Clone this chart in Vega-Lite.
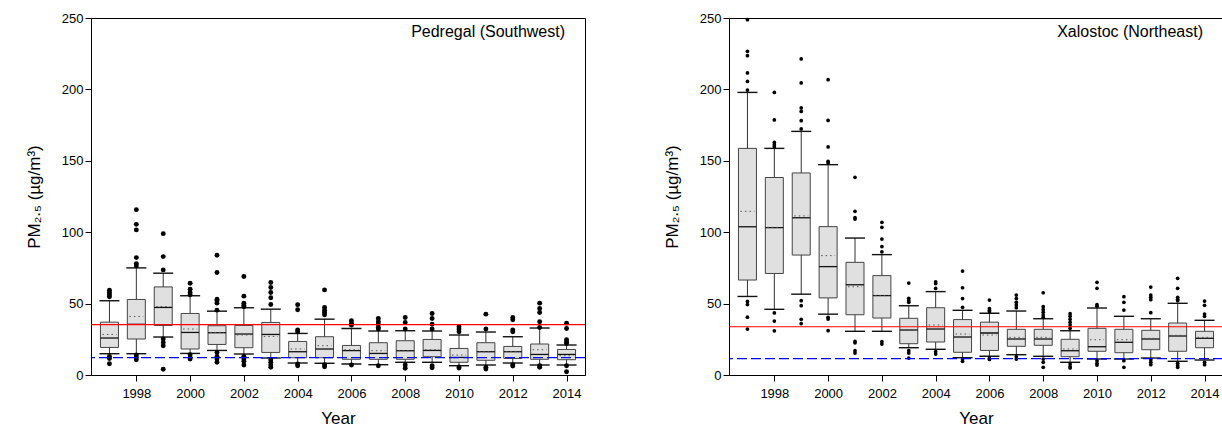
{
  "$schema": "https://vega.github.io/schema/vega-lite/v6.json",
  "padding": {"left": 24, "top": 11, "right": 0, "bottom": 0},
  "spacing": 75,
  "config": {
    "font": "Liberation Sans",
    "view": {"stroke": "black", "strokeWidth": 1},
    "axis": {"grid": false, "domainColor": "black", "tickColor": "black", "labelColor": "black", "titleColor": "black", "labelFontSize": 13, "titleFontSize": 17, "titleFontWeight": "normal"},
    "axisY": {"labelOverlap": false, "labelFontSize": 13, "tickSize": 6, "labelPadding": 2, "titlePadding": 18},
    "title": {"color": "black"}
  },
  "datasets": {
    "boxes": [
      {"site": "P", "year": 1997, "q1": 19.3, "q3": 37.0, "med": 25.9, "mean": 28.4, "lo": 14.9, "hi": 52.0},
      {"site": "P", "year": 1998, "q1": 25.2, "q3": 52.9, "med": 35.5, "mean": 41.0, "lo": 14.9, "hi": 75.0},
      {"site": "P", "year": 1999, "q1": 34.7, "q3": 61.7, "med": 47.3, "mean": 48.0, "lo": 26.6, "hi": 71.3},
      {"site": "P", "year": 2000, "q1": 18.2, "q3": 43.1, "med": 29.8, "mean": 32.2, "lo": 15.1, "hi": 55.5},
      {"site": "P", "year": 2001, "q1": 21.4, "q3": 34.5, "med": 29.6, "mean": 29.8, "lo": 17.2, "hi": 44.7},
      {"site": "P", "year": 2002, "q1": 19.1, "q3": 34.7, "med": 28.7, "mean": 28.0, "lo": 14.7, "hi": 47.1},
      {"site": "P", "year": 2003, "q1": 15.8, "q3": 36.8, "med": 28.4, "mean": 27.0, "lo": 11.9, "hi": 46.1},
      {"site": "P", "year": 2004, "q1": 12.1, "q3": 23.5, "med": 16.3, "mean": 18.2, "lo": 8.4, "hi": 29.1},
      {"site": "P", "year": 2005, "q1": 12.1, "q3": 26.8, "med": 18.2, "mean": 20.5, "lo": 8.2, "hi": 39.1},
      {"site": "P", "year": 2006, "q1": 11.0, "q3": 20.7, "med": 17.0, "mean": 17.7, "lo": 7.7, "hi": 32.6},
      {"site": "P", "year": 2007, "q1": 11.0, "q3": 22.6, "med": 15.1, "mean": 17.0, "lo": 7.2, "hi": 30.8},
      {"site": "P", "year": 2008, "q1": 11.0, "q3": 24.0, "med": 17.0, "mean": 17.0, "lo": 8.9, "hi": 31.0},
      {"site": "P", "year": 2009, "q1": 12.8, "q3": 24.9, "med": 17.2, "mean": 17.7, "lo": 8.9, "hi": 30.8},
      {"site": "P", "year": 2010, "q1": 8.9, "q3": 18.6, "med": 12.3, "mean": 14.0, "lo": 6.5, "hi": 28.0},
      {"site": "P", "year": 2011, "q1": 10.3, "q3": 22.6, "med": 16.3, "mean": 16.3, "lo": 7.0, "hi": 30.1},
      {"site": "P", "year": 2012, "q1": 11.6, "q3": 20.0, "med": 16.3, "mean": 16.5, "lo": 8.4, "hi": 26.8},
      {"site": "P", "year": 2013, "q1": 11.0, "q3": 21.7, "med": 14.4, "mean": 17.7, "lo": 7.0, "hi": 32.9},
      {"site": "P", "year": 2014, "q1": 10.7, "q3": 17.9, "med": 14.4, "mean": 13.5, "lo": 7.0, "hi": 21.0},
      {"site": "X", "year": 1997, "q1": 66.5, "q3": 158.7, "med": 103.8, "mean": 114.6, "lo": 55.0, "hi": 197.9},
      {"site": "X", "year": 1998, "q1": 71.1, "q3": 138.3, "med": 103.2, "mean": 103.4, "lo": 46.0, "hi": 158.7},
      {"site": "X", "year": 1999, "q1": 84.0, "q3": 141.5, "med": 110.1, "mean": 111.4, "lo": 56.6, "hi": 170.6},
      {"site": "X", "year": 2000, "q1": 54.0, "q3": 103.9, "med": 75.9, "mean": 83.6, "lo": 42.6, "hi": 147.3},
      {"site": "X", "year": 2001, "q1": 42.2, "q3": 78.9, "med": 63.2, "mean": 61.8, "lo": 30.6, "hi": 95.9},
      {"site": "X", "year": 2002, "q1": 39.9, "q3": 69.6, "med": 55.6, "mean": 55.6, "lo": 30.6, "hi": 84.3},
      {"site": "X", "year": 2003, "q1": 21.9, "q3": 39.7, "med": 31.5, "mean": 31.8, "lo": 19.1, "hi": 48.5},
      {"site": "X", "year": 2004, "q1": 23.1, "q3": 47.1, "med": 32.2, "mean": 35.0, "lo": 18.0, "hi": 58.4},
      {"site": "X", "year": 2005, "q1": 15.9, "q3": 38.8, "med": 26.6, "mean": 28.7, "lo": 12.1, "hi": 45.3},
      {"site": "X", "year": 2006, "q1": 17.2, "q3": 37.0, "med": 29.4, "mean": 28.0, "lo": 13.1, "hi": 43.2},
      {"site": "X", "year": 2007, "q1": 20.1, "q3": 32.0, "med": 25.2, "mean": 26.4, "lo": 14.2, "hi": 44.8},
      {"site": "X", "year": 2008, "q1": 20.8, "q3": 32.0, "med": 25.2, "mean": 26.4, "lo": 13.1, "hi": 39.4},
      {"site": "X", "year": 2009, "q1": 12.8, "q3": 25.0, "med": 17.0, "mean": 18.2, "lo": 8.9, "hi": 31.0},
      {"site": "X", "year": 2010, "q1": 16.6, "q3": 32.7, "med": 19.8, "mean": 24.7, "lo": 11.2, "hi": 46.9},
      {"site": "X", "year": 2011, "q1": 15.6, "q3": 32.0, "med": 22.9, "mean": 24.7, "lo": 11.2, "hi": 41.1},
      {"site": "X", "year": 2012, "q1": 17.7, "q3": 31.3, "med": 25.2, "mean": 25.7, "lo": 11.9, "hi": 39.4},
      {"site": "X", "year": 2013, "q1": 16.6, "q3": 36.4, "med": 27.3, "mean": 27.8, "lo": 9.6, "hi": 50.2},
      {"site": "X", "year": 2014, "q1": 19.1, "q3": 30.6, "med": 25.7, "mean": 26.4, "lo": 10.5, "hi": 38.3}
    ],
    "outliers": [
      {"site": "P", "year": 1997, "v": 59.4}, {"site": "P", "year": 1997, "v": 57.8}, {"site": "P", "year": 1997, "v": 56.2}, {"site": "P", "year": 1997, "v": 54.8}, {"site": "P", "year": 1997, "v": 13.0}, {"site": "P", "year": 1997, "v": 11.6}, {"site": "P", "year": 1997, "v": 7.9},
      {"site": "P", "year": 1998, "v": 115.8}, {"site": "P", "year": 1998, "v": 105.5}, {"site": "P", "year": 1998, "v": 101.6}, {"site": "P", "year": 1998, "v": 82.2}, {"site": "P", "year": 1998, "v": 78.0}, {"site": "P", "year": 1998, "v": 76.4}, {"site": "P", "year": 1998, "v": 14.0}, {"site": "P", "year": 1998, "v": 12.3}, {"site": "P", "year": 1998, "v": 10.7},
      {"site": "P", "year": 1999, "v": 99.0}, {"site": "P", "year": 1999, "v": 82.9}, {"site": "P", "year": 1999, "v": 73.6}, {"site": "P", "year": 1999, "v": 25.2}, {"site": "P", "year": 1999, "v": 22.8}, {"site": "P", "year": 1999, "v": 20.5}, {"site": "P", "year": 1999, "v": 4.0},
      {"site": "P", "year": 2000, "v": 64.3}, {"site": "P", "year": 2000, "v": 60.1}, {"site": "P", "year": 2000, "v": 57.8}, {"site": "P", "year": 2000, "v": 56.2}, {"site": "P", "year": 2000, "v": 14.2}, {"site": "P", "year": 2000, "v": 12.3}, {"site": "P", "year": 2000, "v": 11.2},
      {"site": "P", "year": 2001, "v": 83.9}, {"site": "P", "year": 2001, "v": 71.8}, {"site": "P", "year": 2001, "v": 53.1}, {"site": "P", "year": 2001, "v": 52.0}, {"site": "P", "year": 2001, "v": 50.3}, {"site": "P", "year": 2001, "v": 45.4}, {"site": "P", "year": 2001, "v": 15.8}, {"site": "P", "year": 2001, "v": 13.0}, {"site": "P", "year": 2001, "v": 11.2}, {"site": "P", "year": 2001, "v": 8.9},
      {"site": "P", "year": 2002, "v": 69.0}, {"site": "P", "year": 2002, "v": 55.2}, {"site": "P", "year": 2002, "v": 50.3}, {"site": "P", "year": 2002, "v": 48.9}, {"site": "P", "year": 2002, "v": 47.8}, {"site": "P", "year": 2002, "v": 13.0}, {"site": "P", "year": 2002, "v": 11.2}, {"site": "P", "year": 2002, "v": 9.6}, {"site": "P", "year": 2002, "v": 7.0},
      {"site": "P", "year": 2003, "v": 64.8}, {"site": "P", "year": 2003, "v": 61.3}, {"site": "P", "year": 2003, "v": 57.8}, {"site": "P", "year": 2003, "v": 54.1}, {"site": "P", "year": 2003, "v": 49.4}, {"site": "P", "year": 2003, "v": 10.7}, {"site": "P", "year": 2003, "v": 8.9}, {"site": "P", "year": 2003, "v": 7.0}, {"site": "P", "year": 2003, "v": 5.4},
      {"site": "P", "year": 2004, "v": 49.2}, {"site": "P", "year": 2004, "v": 45.7}, {"site": "P", "year": 2004, "v": 31.5}, {"site": "P", "year": 2004, "v": 30.3}, {"site": "P", "year": 2004, "v": 7.7}, {"site": "P", "year": 2004, "v": 6.5},
      {"site": "P", "year": 2005, "v": 59.6}, {"site": "P", "year": 2005, "v": 47.3}, {"site": "P", "year": 2005, "v": 45.4}, {"site": "P", "year": 2005, "v": 43.8}, {"site": "P", "year": 2005, "v": 42.2}, {"site": "P", "year": 2005, "v": 7.2}, {"site": "P", "year": 2005, "v": 5.8},
      {"site": "P", "year": 2006, "v": 38.0}, {"site": "P", "year": 2006, "v": 36.3}, {"site": "P", "year": 2006, "v": 34.9}, {"site": "P", "year": 2006, "v": 7.0},
      {"site": "P", "year": 2007, "v": 39.6}, {"site": "P", "year": 2007, "v": 37.3}, {"site": "P", "year": 2007, "v": 35.6}, {"site": "P", "year": 2007, "v": 33.3}, {"site": "P", "year": 2007, "v": 32.2}, {"site": "P", "year": 2007, "v": 6.5},
      {"site": "P", "year": 2008, "v": 40.3}, {"site": "P", "year": 2008, "v": 36.8}, {"site": "P", "year": 2008, "v": 32.2}, {"site": "P", "year": 2008, "v": 7.0}, {"site": "P", "year": 2008, "v": 4.7},
      {"site": "P", "year": 2009, "v": 43.1}, {"site": "P", "year": 2009, "v": 39.6}, {"site": "P", "year": 2009, "v": 35.6}, {"site": "P", "year": 2009, "v": 32.2}, {"site": "P", "year": 2009, "v": 6.5}, {"site": "P", "year": 2009, "v": 5.1},
      {"site": "P", "year": 2010, "v": 33.8}, {"site": "P", "year": 2010, "v": 32.2}, {"site": "P", "year": 2010, "v": 30.3}, {"site": "P", "year": 2010, "v": 5.6}, {"site": "P", "year": 2010, "v": 4.9},
      {"site": "P", "year": 2011, "v": 42.6}, {"site": "P", "year": 2011, "v": 32.2}, {"site": "P", "year": 2011, "v": 5.4}, {"site": "P", "year": 2011, "v": 4.2},
      {"site": "P", "year": 2012, "v": 40.3}, {"site": "P", "year": 2012, "v": 38.7}, {"site": "P", "year": 2012, "v": 31.5}, {"site": "P", "year": 2012, "v": 30.3}, {"site": "P", "year": 2012, "v": 7.2}, {"site": "P", "year": 2012, "v": 6.3},
      {"site": "P", "year": 2013, "v": 50.3}, {"site": "P", "year": 2013, "v": 46.6}, {"site": "P", "year": 2013, "v": 43.8}, {"site": "P", "year": 2013, "v": 37.3}, {"site": "P", "year": 2013, "v": 33.3}, {"site": "P", "year": 2013, "v": 6.5}, {"site": "P", "year": 2013, "v": 5.4},
      {"site": "P", "year": 2014, "v": 36.3}, {"site": "P", "year": 2014, "v": 32.6}, {"site": "P", "year": 2014, "v": 24.7}, {"site": "P", "year": 2014, "v": 23.3}, {"site": "P", "year": 2014, "v": 22.1}, {"site": "P", "year": 2014, "v": 6.5}, {"site": "P", "year": 2014, "v": 2.3},
      {"site": "X", "year": 1997, "v": 248.8}, {"site": "X", "year": 1997, "v": 226.7}, {"site": "X", "year": 1997, "v": 223.6}, {"site": "X", "year": 1997, "v": 211.5}, {"site": "X", "year": 1997, "v": 205.6}, {"site": "X", "year": 1997, "v": 199.5}, {"site": "X", "year": 1997, "v": 51.5}, {"site": "X", "year": 1997, "v": 49.3}, {"site": "X", "year": 1997, "v": 40.5}, {"site": "X", "year": 1997, "v": 32.2},
      {"site": "X", "year": 1998, "v": 197.9}, {"site": "X", "year": 1998, "v": 178.6}, {"site": "X", "year": 1998, "v": 162.9}, {"site": "X", "year": 1998, "v": 161.3}, {"site": "X", "year": 1998, "v": 159.9}, {"site": "X", "year": 1998, "v": 43.5}, {"site": "X", "year": 1998, "v": 37.8}, {"site": "X", "year": 1998, "v": 30.9},
      {"site": "X", "year": 1999, "v": 221.3}, {"site": "X", "year": 1999, "v": 204.5}, {"site": "X", "year": 1999, "v": 187.0}, {"site": "X", "year": 1999, "v": 184.6}, {"site": "X", "year": 1999, "v": 178.1}, {"site": "X", "year": 1999, "v": 172.3}, {"site": "X", "year": 1999, "v": 52.0}, {"site": "X", "year": 1999, "v": 48.5}, {"site": "X", "year": 1999, "v": 39.0}, {"site": "X", "year": 1999, "v": 36.0},
      {"site": "X", "year": 2000, "v": 206.8}, {"site": "X", "year": 2000, "v": 178.3}, {"site": "X", "year": 2000, "v": 159.7}, {"site": "X", "year": 2000, "v": 149.6}, {"site": "X", "year": 2000, "v": 148.5}, {"site": "X", "year": 2000, "v": 40.4}, {"site": "X", "year": 2000, "v": 39.2}, {"site": "X", "year": 2000, "v": 31.0},
      {"site": "X", "year": 2001, "v": 138.4}, {"site": "X", "year": 2001, "v": 114.6}, {"site": "X", "year": 2001, "v": 110.2}, {"site": "X", "year": 2001, "v": 109.2}, {"site": "X", "year": 2001, "v": 23.6}, {"site": "X", "year": 2001, "v": 22.5}, {"site": "X", "year": 2001, "v": 17.0}, {"site": "X", "year": 2001, "v": 15.4},
      {"site": "X", "year": 2002, "v": 106.9}, {"site": "X", "year": 2002, "v": 103.4}, {"site": "X", "year": 2002, "v": 95.2}, {"site": "X", "year": 2002, "v": 89.9}, {"site": "X", "year": 2002, "v": 86.3}, {"site": "X", "year": 2002, "v": 23.3}, {"site": "X", "year": 2002, "v": 21.7},
      {"site": "X", "year": 2003, "v": 64.4}, {"site": "X", "year": 2003, "v": 53.7}, {"site": "X", "year": 2003, "v": 52.0}, {"site": "X", "year": 2003, "v": 50.9}, {"site": "X", "year": 2003, "v": 17.0}, {"site": "X", "year": 2003, "v": 15.4}, {"site": "X", "year": 2003, "v": 11.9},
      {"site": "X", "year": 2004, "v": 65.3}, {"site": "X", "year": 2004, "v": 64.0}, {"site": "X", "year": 2004, "v": 60.6}, {"site": "X", "year": 2004, "v": 16.3}, {"site": "X", "year": 2004, "v": 14.7},
      {"site": "X", "year": 2005, "v": 72.8}, {"site": "X", "year": 2005, "v": 61.1}, {"site": "X", "year": 2005, "v": 53.5}, {"site": "X", "year": 2005, "v": 47.4}, {"site": "X", "year": 2005, "v": 11.2}, {"site": "X", "year": 2005, "v": 9.6},
      {"site": "X", "year": 2006, "v": 52.5}, {"site": "X", "year": 2006, "v": 46.5}, {"site": "X", "year": 2006, "v": 45.3}, {"site": "X", "year": 2006, "v": 44.3}, {"site": "X", "year": 2006, "v": 11.7}, {"site": "X", "year": 2006, "v": 10.9},
      {"site": "X", "year": 2007, "v": 56.0}, {"site": "X", "year": 2007, "v": 53.5}, {"site": "X", "year": 2007, "v": 50.9}, {"site": "X", "year": 2007, "v": 49.0}, {"site": "X", "year": 2007, "v": 47.1}, {"site": "X", "year": 2007, "v": 12.8}, {"site": "X", "year": 2007, "v": 11.2},
      {"site": "X", "year": 2008, "v": 57.6}, {"site": "X", "year": 2008, "v": 47.8}, {"site": "X", "year": 2008, "v": 45.7}, {"site": "X", "year": 2008, "v": 43.9}, {"site": "X", "year": 2008, "v": 42.0}, {"site": "X", "year": 2008, "v": 40.4}, {"site": "X", "year": 2008, "v": 11.2}, {"site": "X", "year": 2008, "v": 8.9}, {"site": "X", "year": 2008, "v": 5.4},
      {"site": "X", "year": 2009, "v": 42.9}, {"site": "X", "year": 2009, "v": 41.1}, {"site": "X", "year": 2009, "v": 39.0}, {"site": "X", "year": 2009, "v": 36.9}, {"site": "X", "year": 2009, "v": 35.0}, {"site": "X", "year": 2009, "v": 32.7}, {"site": "X", "year": 2009, "v": 7.7}, {"site": "X", "year": 2009, "v": 5.8}, {"site": "X", "year": 2009, "v": 4.9},
      {"site": "X", "year": 2010, "v": 64.9}, {"site": "X", "year": 2010, "v": 60.7}, {"site": "X", "year": 2010, "v": 49.2}, {"site": "X", "year": 2010, "v": 48.2}, {"site": "X", "year": 2010, "v": 10.0}, {"site": "X", "year": 2010, "v": 8.2}, {"site": "X", "year": 2010, "v": 7.0},
      {"site": "X", "year": 2011, "v": 54.8}, {"site": "X", "year": 2011, "v": 50.9}, {"site": "X", "year": 2011, "v": 45.5}, {"site": "X", "year": 2011, "v": 10.0}, {"site": "X", "year": 2011, "v": 5.4},
      {"site": "X", "year": 2012, "v": 61.6}, {"site": "X", "year": 2012, "v": 56.0}, {"site": "X", "year": 2012, "v": 54.4}, {"site": "X", "year": 2012, "v": 52.7}, {"site": "X", "year": 2012, "v": 43.6}, {"site": "X", "year": 2012, "v": 10.5}, {"site": "X", "year": 2012, "v": 8.9}, {"site": "X", "year": 2012, "v": 7.2},
      {"site": "X", "year": 2013, "v": 67.7}, {"site": "X", "year": 2013, "v": 60.7}, {"site": "X", "year": 2013, "v": 54.4}, {"site": "X", "year": 2013, "v": 53.0}, {"site": "X", "year": 2013, "v": 52.0}, {"site": "X", "year": 2013, "v": 8.2}, {"site": "X", "year": 2013, "v": 6.5}, {"site": "X", "year": 2013, "v": 5.4},
      {"site": "X", "year": 2014, "v": 51.8}, {"site": "X", "year": 2014, "v": 48.8}, {"site": "X", "year": 2014, "v": 42.7}, {"site": "X", "year": 2014, "v": 41.1}, {"site": "X", "year": 2014, "v": 8.9}, {"site": "X", "year": 2014, "v": 7.2}
    ],
    "refs": [
      {"site": "P", "kind": "limit", "v": 35.3},
      {"site": "P", "kind": "guide", "v": 12.2},
      {"site": "X", "kind": "limit", "v": 33.8},
      {"site": "X", "kind": "guide", "v": 11.5}
    ]
  },
  "hconcat": [
    {
      "width": 494, "height": 357,
      "title": {"text": "Pedregal (Southwest)", "anchor": "end", "frame": "group", "offset": -44, "dx": -20, "fontSize": 16, "fontWeight": "normal", "baseline": "bottom"},
      "encoding": {
        "x": {"field": "year", "type": "quantitative", "scale": {"domain": [1996.5, 2014.5], "nice": false, "zero": false},
              "axis": {"values": [1998, 2000, 2002, 2004, 2006, 2008, 2010, 2012, 2014], "format": "d", "tickSize": 6, "labelPadding": 6, "title": "Year", "titlePadding": 10}}
      },
      "layer": [
        {"data": {"name": "boxes"}, "transform": [{"filter": "datum.site === 'P'"}],
         "mark": {"type": "rule", "color": "#333333", "strokeWidth": 1},
         "encoding": {"y": {"field": "lo", "type": "quantitative", "scale": {"domain": [0, 250], "nice": false}, "title": "PM₂.₅ (µg/m³)",
                            "axis": {"values": [0, 50, 100, 150, 200, 250], "labelOverlap": false, "tickSize": 6, "labelPadding": 2, "titlePadding": 18}},
                      "y2": {"field": "hi"}}},
        {"data": {"name": "boxes"}, "transform": [{"filter": "datum.site === 'P'"}],
         "mark": {"type": "bar", "size": 18, "fill": "#e0e0e0", "stroke": "#444444", "strokeWidth": 1, "opacity": 1},
         "encoding": {"y": {"field": "q1", "type": "quantitative", "title": "PM₂.₅ (µg/m³)"}, "y2": {"field": "q3"}}},
        {"data": {"name": "boxes"}, "transform": [{"filter": "datum.site === 'P'"}],
         "mark": {"type": "tick", "orient": "horizontal", "size": 20, "thickness": 1.4, "color": "#111111", "opacity": 1},
         "encoding": {"y": {"field": "hi", "type": "quantitative", "title": "PM₂.₅ (µg/m³)"}}},
        {"data": {"name": "boxes"}, "transform": [{"filter": "datum.site === 'P'"}],
         "mark": {"type": "tick", "orient": "horizontal", "size": 20, "thickness": 1.4, "color": "#111111", "opacity": 1},
         "encoding": {"y": {"field": "lo", "type": "quantitative", "title": "PM₂.₅ (µg/m³)"}}},
        {"data": {"name": "boxes"}, "transform": [{"filter": "datum.site === 'P'"}],
         "mark": {"type": "tick", "orient": "horizontal", "size": 18, "thickness": 1.3, "color": "#111111", "opacity": 1},
         "encoding": {"y": {"field": "med", "type": "quantitative", "title": "PM₂.₅ (µg/m³)"}}},
        {"data": {"name": "boxes"}, "transform": [{"filter": "datum.site === 'P'"}],
         "mark": {"type": "rule", "xOffset": -7, "x2Offset": 7, "strokeDash": [1.5, 3], "color": "#555555", "strokeWidth": 1},
         "encoding": {"x2": {"field": "year"}, "y": {"field": "mean", "type": "quantitative", "title": "PM₂.₅ (µg/m³)"}}},
        {"data": {"name": "outliers"}, "transform": [{"filter": "datum.site === 'P'"}],
         "mark": {"type": "circle", "size": 24, "color": "black", "opacity": 1},
         "encoding": {"y": {"field": "v", "type": "quantitative", "title": "PM₂.₅ (µg/m³)"}}},
        {"data": {"name": "refs"}, "transform": [{"filter": "datum.site === 'P' && datum.kind === 'limit'"}],
         "mark": {"type": "rule", "color": "#ff0000", "strokeWidth": 1.2},
         "encoding": {"x": null, "y": {"field": "v", "type": "quantitative", "title": "PM₂.₅ (µg/m³)"}}},
        {"data": {"name": "refs"}, "transform": [{"filter": "datum.site === 'P' && datum.kind === 'guide'"}],
         "mark": {"type": "rule", "color": "#0000ff", "strokeWidth": 1.2, "strokeDash": [10, 4]},
         "encoding": {"x": null, "y": {"field": "v", "type": "quantitative", "title": "PM₂.₅ (µg/m³)"}}}
      ]
    },
    {
      "width": 494, "height": 357,
      "title": {"text": "Xalostoc (Northeast)", "anchor": "end", "frame": "group", "offset": -44, "dx": -20, "fontSize": 16, "fontWeight": "normal", "baseline": "bottom"},
      "encoding": {
        "x": {"field": "year", "type": "quantitative", "scale": {"domain": [1996.5, 2014.5], "nice": false, "zero": false},
              "axis": {"values": [1998, 2000, 2002, 2004, 2006, 2008, 2010, 2012, 2014], "format": "d", "tickSize": 6, "labelPadding": 6, "title": "Year", "titlePadding": 10}}
      },
      "layer": [
        {"data": {"name": "boxes"}, "transform": [{"filter": "datum.site === 'X'"}],
         "mark": {"type": "rule", "color": "#333333", "strokeWidth": 1},
         "encoding": {"y": {"field": "lo", "type": "quantitative", "scale": {"domain": [0, 250], "nice": false}, "title": "PM₂.₅ (µg/m³)",
                            "axis": {"values": [0, 50, 100, 150, 200, 250], "labelOverlap": false, "tickSize": 6, "labelPadding": 2, "titlePadding": 18}},
                      "y2": {"field": "hi"}}},
        {"data": {"name": "boxes"}, "transform": [{"filter": "datum.site === 'X'"}],
         "mark": {"type": "bar", "size": 18, "fill": "#e0e0e0", "stroke": "#444444", "strokeWidth": 1, "opacity": 1},
         "encoding": {"y": {"field": "q1", "type": "quantitative", "title": "PM₂.₅ (µg/m³)"}, "y2": {"field": "q3"}}},
        {"data": {"name": "boxes"}, "transform": [{"filter": "datum.site === 'X'"}],
         "mark": {"type": "tick", "orient": "horizontal", "size": 20, "thickness": 1.4, "color": "#111111", "opacity": 1},
         "encoding": {"y": {"field": "hi", "type": "quantitative", "title": "PM₂.₅ (µg/m³)"}}},
        {"data": {"name": "boxes"}, "transform": [{"filter": "datum.site === 'X'"}],
         "mark": {"type": "tick", "orient": "horizontal", "size": 20, "thickness": 1.4, "color": "#111111", "opacity": 1},
         "encoding": {"y": {"field": "lo", "type": "quantitative", "title": "PM₂.₅ (µg/m³)"}}},
        {"data": {"name": "boxes"}, "transform": [{"filter": "datum.site === 'X'"}],
         "mark": {"type": "tick", "orient": "horizontal", "size": 18, "thickness": 1.3, "color": "#111111", "opacity": 1},
         "encoding": {"y": {"field": "med", "type": "quantitative", "title": "PM₂.₅ (µg/m³)"}}},
        {"data": {"name": "boxes"}, "transform": [{"filter": "datum.site === 'X'"}],
         "mark": {"type": "rule", "xOffset": -7, "x2Offset": 7, "strokeDash": [1.5, 3], "color": "#555555", "strokeWidth": 1},
         "encoding": {"x2": {"field": "year"}, "y": {"field": "mean", "type": "quantitative", "title": "PM₂.₅ (µg/m³)"}}},
        {"data": {"name": "outliers"}, "transform": [{"filter": "datum.site === 'X'"}],
         "mark": {"type": "circle", "size": 14, "color": "black", "opacity": 1},
         "encoding": {"y": {"field": "v", "type": "quantitative", "title": "PM₂.₅ (µg/m³)"}}},
        {"data": {"name": "refs"}, "transform": [{"filter": "datum.site === 'X' && datum.kind === 'limit'"}],
         "mark": {"type": "rule", "color": "#ff0000", "strokeWidth": 1.2},
         "encoding": {"x": null, "y": {"field": "v", "type": "quantitative", "title": "PM₂.₅ (µg/m³)"}}},
        {"data": {"name": "refs"}, "transform": [{"filter": "datum.site === 'X' && datum.kind === 'guide'"}],
         "mark": {"type": "rule", "color": "#0000ff", "strokeWidth": 1.2, "strokeDash": [10, 4]},
         "encoding": {"x": null, "y": {"field": "v", "type": "quantitative", "title": "PM₂.₅ (µg/m³)"}}}
      ]
    }
  ]
}
